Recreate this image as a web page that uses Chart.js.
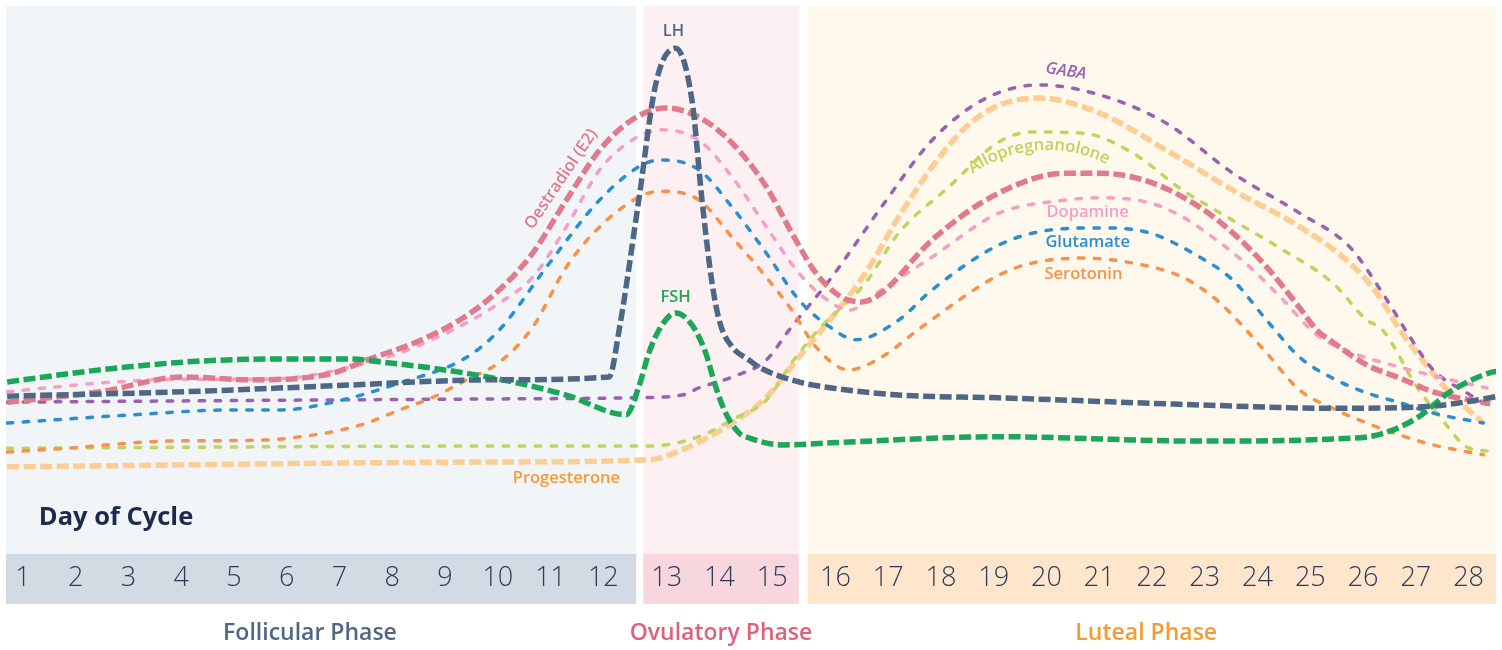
<!DOCTYPE html>
<html><head><meta charset="utf-8">
<script src="https://cdn.jsdelivr.net/npm/chart.js@4.4.1/dist/chart.umd.min.js"></script>
<style>html,body{margin:0;padding:0;background:#fff}canvas{display:block}</style>
</head><body>
<canvas id="c" width="1502" height="650"></canvas>
<script>
// ---------- DATA ----------
const dayTicks = [1,2,3,4,5,6,7,8,9,10,11,12,13,14,15,16,17,18,19,20,21,22,23,24,25,26,27,28];

const lhDays   = [0.70,4.35,6.87,10.03,12.09,12.25,12.56,12.83,13.17,13.48,13.67,13.86,14.01,14.24,14.56,14.75,15.42,15.94,17.20,19.10,22.90,25.42,27.02,28.41,28.6];
const lhValues = [28.8,29.7,30.7,31.8,32.3,40.9,64.6,85.9,92.3,82.8,64.6,49.5,42.2,37.8,35.4,34.1,31.4,30.3,29.0,28.5,27.2,26.6,26.8,28.5,28.9];

const fshDays   = [0.70,2.46,4.35,6.25,7.19,7.82,8.77,10.03,11.30,12.36,12.56,12.72,12.88,13.17,13.48,13.74,13.93,14.12,14.37,14.56,15.16,15.94,19.10,22.90,25.42,26.26,27.02,27.65,28.41,28.6];
const fshValues = [31.4,33.6,35.2,35.6,35.6,35.0,33.9,31.9,29.0,25.4,30.5,36.7,40.9,44.0,41.8,36.7,30.5,25.7,22.1,21.2,19.9,20.3,21.4,20.6,21.0,21.7,24.8,29.6,33.1,33.4];

const oestradiolDays   = [0.70,2.46,4.03,5.30,6.87,7.52,8.46,9.28,10.03,10.66,11.30,11.93,12.45,12.98,13.61,14.24,14.89,15.31,15.69,16.11,16.49,16.87,17.83,19.10,20.37,21.00,21.95,22.90,23.53,24.17,24.80,25.12,25.42,26.07,26.70,27.33,28.41];
const oestradiolValues = [27.7,29.6,32.3,31.8,33.0,35.4,38.7,42.7,48.2,54.9,64.6,73.7,79.2,81.4,79.7,75.0,67.0,58.6,51.3,46.9,46.0,47.6,57.3,65.9,69.5,69.5,67.9,63.3,58.6,52.4,44.9,40.9,38.7,34.5,32.1,29.6,27.4];

const dopamineDays   = [0.70,2.46,4.03,5.30,6.25,7.19,8.14,9.41,10.03,10.66,11.30,11.93,12.45,12.92,13.61,14.24,14.89,15.42,15.94,16.25,16.87,17.83,19.10,20.37,21.00,21.95,22.58,23.22,23.85,24.48,25.12,25.75,26.70,27.65,28.35];
const dopamineValues = [29.6,31.2,31.9,31.9,32.3,34.1,36.7,42.2,45.8,50.5,59.7,70.1,75.5,77.4,75.5,68.8,59.7,51.3,45.8,44.5,48.2,54.2,62.2,64.6,65.0,64.1,61.5,57.3,52.4,46.4,40.0,36.9,34.1,31.8,30.3];

const glutamateDays   = [0.70,3.08,4.98,5.92,6.87,8.14,9.41,10.03,10.98,11.93,12.61,12.92,13.61,14.24,14.89,15.42,15.94,16.38,17.20,17.83,19.10,20.05,21.00,21.95,22.90,23.53,24.17,24.80,25.42,26.07,26.70,27.33,28.28];
const glutamateValues = [23.9,25.4,26.3,26.3,27.7,31.2,35.9,40.9,53.1,64.6,71.0,71.9,70.1,63.3,54.9,46.4,41.2,39.1,42.7,48.2,56.4,59.1,59.5,58.6,54.2,50.0,42.7,35.9,32.1,29.4,27.6,25.7,23.9];

const serotoninDays   = [0.70,1.83,3.73,5.62,6.25,6.87,7.52,8.14,8.77,9.41,10.03,10.66,11.30,11.93,12.56,12.88,13.61,14.24,14.89,15.31,15.69,16.25,16.87,17.63,19.10,19.73,20.68,21.63,22.58,23.22,23.66,24.17,24.80,25.42,26.07,26.70,27.33,28.28];
const serotoninValues = [18.6,19.3,20.6,20.8,21.4,22.3,23.9,26.3,28.6,31.8,35.0,41.4,52.4,59.7,65.1,66.2,64.6,57.8,50.5,44.5,37.8,33.6,35.9,41.4,50.9,53.1,54.0,53.1,50.5,46.4,42.2,36.7,29.9,26.6,23.9,21.7,19.9,18.1];

const gabaDays   = [0.70,4.98,10.03,12.45,13.29,13.61,14.24,14.89,15.27,15.94,16.87,17.83,18.78,19.86,21.00,22.27,23.53,24.80,25.75,26.37,26.89,27.33,27.97,28.35];
const gabaValues = [27.7,28.0,28.3,28.5,29.0,30.3,32.3,35.4,40.9,50.5,63.3,75.5,82.8,85.6,83.8,78.6,69.5,62.2,56.0,47.6,39.6,33.6,29.4,27.2];

const alloDays   = [0.70,10.03,12.72,13.61,14.24,14.89,15.31,15.73,16.57,17.20,18.15,19.10,19.73,20.68,21.63,22.58,23.53,24.48,25.42,26.07,26.37,27.02,27.46,27.97,28.35];
const alloValues = [19.3,19.7,19.7,21.4,24.5,28.1,34.9,40.9,49.5,58.6,67.0,75.2,77.0,76.8,73.2,66.4,60.9,55.5,49.5,42.7,40.9,30.5,25.0,19.5,18.8];

const progesteroneDays   = [0.70,10.03,12.72,13.29,14.24,14.89,15.42,15.94,16.57,17.20,17.83,18.47,19.10,19.86,21.00,22.27,23.53,24.80,25.75,26.26,26.70,27.02,27.65,28.28];
const progesteroneValues = [15.9,16.8,17.2,19.0,23.9,28.6,35.9,43.1,51.3,61.5,70.6,77.9,81.9,83.2,80.5,73.7,66.4,59.7,53.1,47.6,40.9,36.7,29.4,23.9];

// phase panels (in days) and labels
const phaseNames  = ['Follicular Phase','Ovulatory Phase','Luteal Phase'];
const phaseStarts = [0.5, 12.63, 15.56];
const phaseEnds   = [12.52, 15.42, 29.5];
const phaseLabelDays = [6.44, 14.03, 21.89];

// series labels: text, anchor day, anchor value, rotation (deg), arc radius (0 = straight)
const seriesLabels      = ['LH','FSH','Oestradiol (E2)','GABA','Allopregnanolone','Dopamine','Glutamate','Serotonin','Progesterone'];
const seriesLabelDays   = [13.13, 13.17, 11.20, 20.37, 20.02, 20.78, 20.78, 20.70, 11.30];
const seriesLabelValues = [95.4, 46.9, 68.4, 88.1, 50.0, 62.4, 56.9, 51.1, 13.9];
const seriesLabelAngles = [0, 0, -56, 9, -4, 0, 0, 0, 0];
const seriesLabelArcs   = [0, 0, 0, 0, 130, 0, 0, 0, 0];

// ---------- SCALE WITH PHASE GAPS ----------
const GAP = 1.2;
function warp(d){ if(d<=12) return d; if(d<=13) return 12+(d-12)*GAP; if(d<=15) return d+GAP-1; if(d<=16) return 15+GAP-1+(d-15)*GAP; return d+2*(GAP-1); }
function unwarp(u){ if(u<=12) return u; if(u<=12+GAP) return 12+(u-12)/GAP; if(u<=14+GAP) return u-(GAP-1); if(u<=14+2*GAP) return 15+(u-14-GAP)/GAP; return u-2*(GAP-1); }
class PhaseScale extends Chart.LinearScale {
  getPixelForValue(v){ return super.getPixelForValue(warp(v)); }
  getValueForPixel(p){ return unwarp(super.getValueForPixel(p)); }
}
PhaseScale.id = 'phase';
PhaseScale.defaults = Chart.LinearScale.defaults;
Chart.register(PhaseScale);

const FONT = "'Open Sans', 'Noto Sans', sans-serif";

function pts(days, vals){ return days.map((d,i)=>({x:d, y:vals[i]})); }
function thick(label, days, vals, color){
  return {label, data: pts(days, vals), borderColor: color, borderWidth: 5.5, borderDash: [12,4.5], borderCapStyle:'butt', pointRadius:0, fill:false, cubicInterpolationMode:'monotone'};
}
function thin(label, days, vals, color){
  return {label, data: pts(days, vals), borderColor: color, borderWidth: 3.5, borderDash: [5.5,10.5], borderCapStyle:'round', pointRadius:0, fill:false, cubicInterpolationMode:'monotone'};
}

const C = {
  lh:'#4d6784', fsh:'#1ba65a', e2:'#e07a8c', gaba:'#9b60b1', allo:'#bdd65e',
  dop:'#f59fc4', glu:'#2a8fd1', ser:'#f7924b', prog:'#fdcd93'
};
const labelColors = [C.lh, '#1ba65a', C.e2, C.gaba, '#bcd45a', '#f59fc4', C.glu, C.ser, '#f59b37'];

const phaseBg   = ['#f1f5f8','#fcf0f3','#fff8ed'];
const phaseBand = ['#d2dbe3','#f7d6de','#fde6cb'];
const phaseText = ['#4f6785','#e05f7c','#f59b2f'];

function drawArcText(ctx, text, cx, cy, R, midDeg){
  const w = ctx.measureText(text).width;
  const span = w / R;
  let a = -Math.PI/2 + midDeg*Math.PI/180 - span/2;
  ctx.textAlign = 'left';
  for (const ch of text){
    const cw = ctx.measureText(ch).width;
    const ac = a + (cw/2)/R;
    ctx.save();
    ctx.translate(cx + R*Math.cos(ac), cy + R*Math.sin(ac));
    ctx.rotate(ac + Math.PI/2);
    ctx.fillText(ch, -cw/2, 0);
    ctx.restore();
    a += cw / R;
  }
}

const bgPlugin = {
  id:'phases',
  beforeDraw(chart){
    const {ctx, chartArea:a, scales:{x}} = chart;
    ctx.save();
    phaseStarts.forEach((s,i)=>{
      const l = Math.max(a.left, x.getPixelForValue(s));
      const r = Math.min(a.right, x.getPixelForValue(phaseEnds[i]));
      ctx.fillStyle = phaseBg[i]; ctx.fillRect(l, a.top, r-l, a.bottom-a.top);
      ctx.fillStyle = phaseBand[i]; ctx.fillRect(l, a.bottom, r-l, x.bottom-a.bottom);
    });
    ctx.restore();
  },
  afterDraw(chart){
    const {ctx, scales:{x,y}} = chart;
    ctx.save();
    ctx.textAlign='center'; ctx.textBaseline='middle';
    ctx.font = `600 23px ${FONT}`;
    phaseNames.forEach((n,i)=>{ ctx.fillStyle = phaseText[i]; ctx.fillText(n, x.getPixelForValue(phaseLabelDays[i]), x.bottom+29); });
    // Day of Cycle
    ctx.textAlign='left'; ctx.fillStyle='#1b2b4b'; ctx.font = `bold 25.5px ${FONT}`;
    ctx.fillText('Day of Cycle', x.getPixelForValue(1.30), y.getPixelForValue(6.6));
    // series labels
    seriesLabels.forEach((t,i)=>{
      ctx.save();
      ctx.fillStyle = labelColors[i];
      ctx.font = (t==='GABA' ? 'italic ' : '') + `600 16.5px ${FONT}`;
      const px = x.getPixelForValue(seriesLabelDays[i]), py = y.getPixelForValue(seriesLabelValues[i]);
      if (seriesLabelArcs[i] > 0) {
        ctx.textBaseline = 'alphabetic';
        drawArcText(ctx, t, px, py, seriesLabelArcs[i], seriesLabelAngles[i]);
      } else {
        ctx.textAlign='center';
        ctx.translate(px, py);
        ctx.rotate(seriesLabelAngles[i]*Math.PI/180);
        ctx.fillText(t, 0, 0);
      }
      ctx.restore();
    });
    ctx.restore();
  }
};

new Chart(document.getElementById('c'), {
  type:'line',
  data:{ datasets:[
    thick('LH', lhDays, lhValues, C.lh),
    thick('FSH', fshDays, fshValues, C.fsh),
    thick('Oestradiol (E2)', oestradiolDays, oestradiolValues, C.e2),
    thin('Dopamine', dopamineDays, dopamineValues, C.dop),
    thin('Glutamate', glutamateDays, glutamateValues, C.glu),
    thin('Serotonin', serotoninDays, serotoninValues, C.ser),
    thin('GABA', gabaDays, gabaValues, C.gaba),
    thin('Allopregnanolone', alloDays, alloValues, C.allo),
    thick('Progesterone', progesteroneDays, progesteroneValues, C.prog)
  ]},
  options:{
    responsive:false, animation:false, events:[], devicePixelRatio:1,
    layout:{ padding:{ top:6, left:6, right:6, bottom:46 } },
    plugins:{ legend:{display:false}, tooltip:{enabled:false} },
    scales:{
      x:{ type:'phase', min:0.678, max:28.92, bounds:'data',
          grid:{display:false, drawTicks:false}, border:{display:false},
          afterBuildTicks(s){ s.ticks = dayTicks.map(v=>({value:v})); },
          afterFit(s){ s.height = 50; },
          ticks:{ autoSkip:false, maxRotation:0, padding:8, color:'#2d3a58',
                  font:{family:FONT, size:27, weight:'300'},
                  callback:(v)=>String(v) } },
      y:{ display:false, min:0, max:100 }
    }
  },
  plugins:[bgPlugin]
});
</script>
</body></html>
